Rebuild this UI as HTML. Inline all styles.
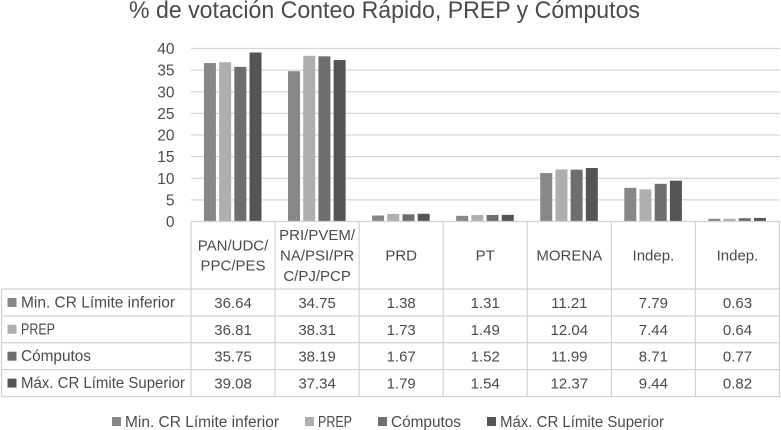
<!DOCTYPE html>
<html lang="es">
<head>
<meta charset="utf-8">
<title>% de votación Conteo Rápido, PREP y Cómputos</title>
<style>
html,body{margin:0;padding:0;background:#fff;width:781px;height:430px;overflow:hidden}
svg{display:block}
text{font-family:"Liberation Sans",sans-serif;fill:#4c4c4e}
</style>
</head>
<body>
<svg id="chart" width="781" height="430" viewBox="0 0 781 430" xmlns="http://www.w3.org/2000/svg">
  <defs><filter id="soft" x="-2%" y="-2%" width="104%" height="104%"><feGaussianBlur stdDeviation="0.35"/></filter></defs>
  <g id="root" filter="url(#soft)">
    <text x="129" y="18" font-size="24" textLength="511" lengthAdjust="spacingAndGlyphs">% de votación Conteo Rápido, PREP y Cómputos</text>
  </g>
</svg>
<script>
const seriesNames = ["Min. CR Límite inferior", "PREP", "Cómputos", "Máx. CR Límite Superior"];
const seriesColors = ["#87888a", "#aeafb1", "#6d6e70", "#555557"];
const categoryLines = [["PAN/UDC/", "PPC/PES"], ["PRI/PVEM/", "NA/PSI/PR", "C/PJ/PCP"], ["PRD"], ["PT"], ["MORENA"], ["Indep."], ["Indep."]];
const minCR = [36.64, 34.75, 1.38, 1.31, 11.21, 7.79, 0.63];
const prep = [36.81, 38.31, 1.73, 1.49, 12.04, 7.44, 0.64];
const computos = [35.75, 38.19, 1.67, 1.52, 11.99, 8.71, 0.77];
const maxCR = [39.08, 37.34, 1.79, 1.54, 12.37, 9.44, 0.82];
const yTicks = [0, 5, 10, 15, 20, 25, 30, 35, 40];

const seriesValues = [minCR, prep, computos, maxCR];
const NS = "http://www.w3.org/2000/svg";
const root = document.getElementById("root");
const plotLeft = 191, plotRight = 779.5, plotTop = 48.5, plotBottom = 221.5, yMax = 40;
const tableLeft = 1.5, headerBottom = 289, rowBottom = 396.5;
const rowH = (rowBottom - headerBottom) / seriesNames.length;
const colW = (plotRight - plotLeft) / categoryLines.length;
const y = v => plotBottom - (v / yMax) * (plotBottom - plotTop);
const colX = i => plotLeft + i * colW;
const barW = 12, barStep = 15.2;
const barX = (c, s) => colX(c) + colW / 2 - (barStep * 3 + barW) / 2 + s * barStep - 0.3;

function make(tag, attrs, text) {
  const el = document.createElementNS(NS, tag);
  for (const k in attrs) el.setAttribute(k, attrs[k]);
  if (text !== undefined) el.textContent = text;
  root.appendChild(el);
  return el;
}
function fmt(v) { return v.toFixed(2); }

yTicks.forEach(t => {
  if (t > 0) {
    const line = make("line", {x1: plotLeft, x2: plotRight, y1: y(t), y2: y(t), stroke: "#d6d6d6", "stroke-width": 1.2});
    
    
  }
  const label = make("text", {x: 174.5, y: y(t) + 5.5, "font-size": 15.5, "text-anchor": "end"}, String(t));
  
  
});

seriesValues.forEach((vals, s) => {
  vals.forEach((v, c) => {
    const bar = make("rect", {x: barX(c, s), y: y(v), width: barW, height: plotBottom - y(v), fill: seriesColors[s]});
    
    
  });
});

/* table grid */
const gridAttrs = {stroke: "#d2d2d2", "stroke-width": 1.2};
for (let i = 0; i <= categoryLines.length; i++) {
  const v = make("line", Object.assign({x1: colX(i), x2: colX(i), y1: plotBottom, y2: rowBottom}, gridAttrs));
  
  
}
const leftEdge = make("line", Object.assign({x1: tableLeft, x2: tableLeft, y1: headerBottom, y2: rowBottom}, gridAttrs));


const topEdge = make("line", Object.assign({x1: plotLeft, x2: plotRight, y1: plotBottom, y2: plotBottom}, gridAttrs));


for (let r = 0; r <= seriesNames.length; r++) {
  const h = make("line", Object.assign({x1: tableLeft, x2: plotRight, y1: headerBottom + r * rowH, y2: headerBottom + r * rowH}, gridAttrs));
  
  
}

/* category headers */
categoryLines.forEach((lines, c) => {
  const cy = 255, lh = lines.length === 2 ? 20 : 20.5;
  lines.forEach((ln, i) => {
    const t = make("text", {x: colX(c) + colW / 2, y: cy + (i - (lines.length - 1) / 2) * lh + 5.5, "font-size": 15, "text-anchor": "middle"}, ln);
    
    
  });
});

/* table rows */
const labelWidths = [154, 34, 70, 164];
const labelSizes = [15.5, 16, 15.5, 15.5];
seriesNames.forEach((name, s) => {
  const cy = headerBottom + (s + 0.5) * rowH;
  const sw = make("rect", {x: 7.5, y: cy - 4.5, width: 9, height: 9, fill: seriesColors[s]});
  
  
  const lab = make("text", {x: 21, y: cy + 5, "font-size": labelSizes[s], textLength: labelWidths[s], lengthAdjust: "spacingAndGlyphs"}, name);
  
  
  seriesValues[s].forEach((v, c) => {
    const cell = make("text", {x: colX(c) + colW / 2, y: cy + 5.5, "font-size": 15, "text-anchor": "middle"}, fmt(v));
    
    
  });
});

/* legend */
const legendStarts = [112, 305, 378, 487];
seriesNames.forEach((name, s) => {
  const sw = make("rect", {x: legendStarts[s], y: 417, width: 9, height: 9, fill: seriesColors[s]});
  
  
  const t = make("text", {x: legendStarts[s] + 13, y: 427, "font-size": labelSizes[s], textLength: labelWidths[s], lengthAdjust: "spacingAndGlyphs"}, name);
  
  
});
</script>
</body>
</html>
